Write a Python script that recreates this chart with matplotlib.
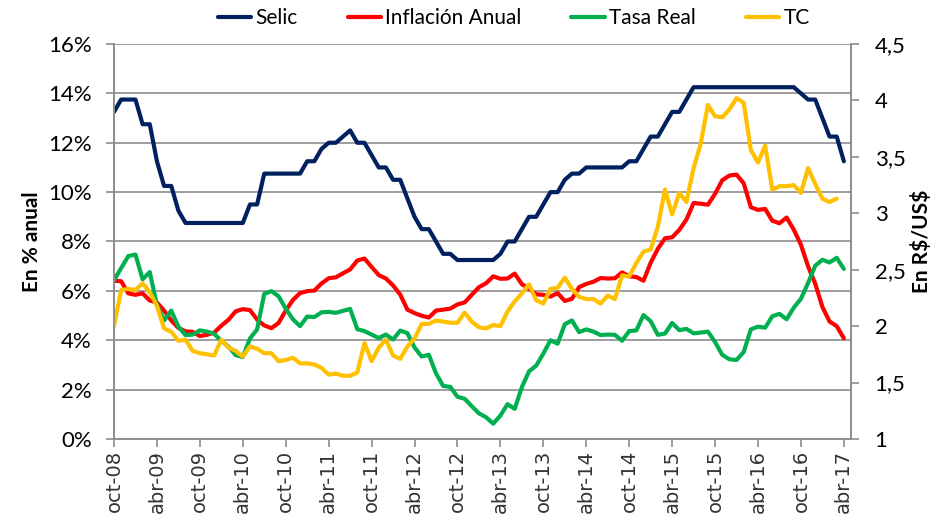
import numpy as np
import matplotlib.pyplot as plt

# etiquetas del eje x (cada 6 meses, desde oct-08)
meses = ['oct-08', 'abr-09', 'oct-09', 'abr-10', 'oct-10', 'abr-11', 'oct-11',
         'abr-12', 'oct-12', 'abr-13', 'oct-13', 'abr-14', 'oct-14', 'abr-15',
         'oct-15', 'abr-16', 'oct-16', 'abr-17']

# Selic (% anual), mensual oct-08 .. abr-17
selic = [13.25, 13.75, 13.75, 13.75, 12.75, 12.75, 11.25, 10.25, 10.25, 9.25,
         8.75, 8.75, 8.75, 8.75, 8.75, 8.75, 8.75, 8.75, 8.75, 9.5,
         9.5, 10.75, 10.75, 10.75, 10.75, 10.75, 10.75, 11.25, 11.25, 11.75,
         12.0, 12.0, 12.25, 12.5, 12.0, 12.0, 11.5, 11.0, 11.0, 10.5,
         10.5, 9.75, 9.0, 8.5, 8.5, 8.0, 7.5, 7.5, 7.25, 7.25,
         7.25, 7.25, 7.25, 7.25, 7.5, 8.0, 8.0, 8.5, 9.0, 9.0,
         9.5, 10.0, 10.0, 10.5, 10.75, 10.75, 11.0, 11.0, 11.0, 11.0,
         11.0, 11.0, 11.25, 11.25, 11.75, 12.25, 12.25, 12.75, 13.25, 13.25,
         13.75, 14.25, 14.25, 14.25, 14.25, 14.25, 14.25, 14.25, 14.25, 14.25,
         14.25, 14.25, 14.25, 14.25, 14.25, 14.25, 14.0, 13.75, 13.75, 13.0,
         12.25, 12.25, 11.25]

# inflacion 12 meses (%)
inflacion = [6.41, 6.39, 5.90,
             5.84, 5.90, 5.61, 5.53, 5.20, 4.80, 4.50, 4.36, 4.34, 4.17, 4.22, 4.31,
             4.59, 4.83, 5.17, 5.26, 5.22, 4.84, 4.60, 4.49, 4.70, 5.20, 5.63, 5.91,
             5.99, 6.01, 6.30, 6.51, 6.55, 6.71, 6.87, 7.23, 7.31, 6.97, 6.64, 6.50,
             6.22, 5.85, 5.24, 5.10, 4.99, 4.92, 5.20, 5.24, 5.28, 5.45, 5.53, 5.84,
             6.15, 6.31, 6.59, 6.49, 6.50, 6.70, 6.27, 6.09, 5.86, 5.84, 5.77, 5.91,
             5.59, 5.68, 6.15, 6.28, 6.37, 6.52, 6.50, 6.51, 6.75, 6.59, 6.56, 6.41,
             7.14, 7.70, 8.13, 8.17, 8.47, 8.89, 9.56, 9.53, 9.49, 9.93, 10.48, 10.67,
             10.71, 10.36, 9.39, 9.28, 9.32, 8.84, 8.74, 8.97, 8.48, 7.87, 6.99, 6.29,
             5.35, 4.76, 4.57, 4.08]

# tasa real (%)
tasa_real = [6.43, 6.92, 7.41, 7.47, 6.47, 6.76, 5.42, 4.80, 5.20, 4.55,
             4.21, 4.23, 4.40, 4.35, 4.26, 3.98, 3.74, 3.40, 3.32, 4.07,
             4.44, 5.88, 5.99, 5.78, 5.28, 4.85, 4.57, 4.96, 4.94, 5.13,
             5.15, 5.11, 5.19, 5.27, 4.45, 4.37, 4.23, 4.09, 4.23, 4.03,
             4.39, 4.29, 3.71, 3.34, 3.41, 2.66, 2.15, 2.11, 1.71, 1.63,
             1.33, 1.04, 0.88, 0.62, 0.95, 1.41, 1.22, 2.10, 2.74, 2.97,
             3.46, 4.00, 3.86, 4.65, 4.80, 4.33, 4.44, 4.35, 4.21, 4.23,
             4.22, 3.98, 4.37, 4.40, 5.02, 4.77, 4.22, 4.27, 4.70, 4.41,
             4.46, 4.28, 4.31, 4.35, 3.93, 3.41, 3.23, 3.20, 3.52, 4.44,
             4.55, 4.51, 4.97, 5.07, 4.85, 5.32, 5.68, 6.32, 7.02, 7.26,
             7.15, 7.34, 6.89]

# tipo de cambio R$/US$ (eje derecho)
tc = [2.00, 2.32, 2.33, 2.32, 2.38, 2.30, 2.18, 1.98, 1.95, 1.87,
      1.88, 1.78, 1.76, 1.75, 1.74, 1.88, 1.81, 1.78, 1.73, 1.82,
      1.80, 1.76, 1.76, 1.69, 1.70, 1.72, 1.67, 1.67, 1.66, 1.63,
      1.57, 1.58, 1.56, 1.56, 1.59, 1.85, 1.69, 1.81, 1.88, 1.74,
      1.71, 1.82, 1.89, 2.02, 2.02, 2.05, 2.04, 2.03, 2.03, 2.12,
      2.04, 1.99, 1.98, 2.01, 2.00, 2.13, 2.22, 2.29, 2.37, 2.23,
      2.20, 2.33, 2.34, 2.43, 2.33, 2.26, 2.24, 2.24, 2.20, 2.27,
      2.24, 2.45, 2.44, 2.56, 2.66, 2.68, 2.88, 3.21, 2.99, 3.18,
      3.10, 3.40, 3.62, 3.96, 3.86, 3.85, 3.92, 4.02, 3.98, 3.56,
      3.45, 3.60, 3.21, 3.24, 3.24, 3.25, 3.18, 3.40, 3.26, 3.13,
      3.10, 3.13]

der_labels = ['1', '1,5', '2', '2,5', '3', '3,5', '4', '4,5']

plt.rcParams['font.family'] = ['Lato', 'DejaVu Sans']
gris = '#8c8c8c'

fig = plt.figure(figsize=(9.39, 5.27), dpi=100)
ax = fig.add_axes([0.1214, 0.167, 0.7849, 0.7495])
ax2 = ax.twinx()

lw = 3.0
kw = dict(lw=lw, solid_capstyle='round', solid_joinstyle='round')
l1, = ax.plot(np.arange(len(selic)), selic, color='#002060', label='Selic', **kw)
l2, = ax.plot(np.arange(len(inflacion)), inflacion, color='#ff0000', label='Inflación Anual', **kw)
l3, = ax.plot(np.arange(len(tasa_real)), tasa_real, color='#00b050', label='Tasa Real', **kw)
l4, = ax2.plot(np.arange(len(tc)), tc, color='#ffc000', label='TC', **kw)

ax.set_xlim(0, 103)
ax.set_ylim(0, 16)
ax2.set_ylim(1, 4.5)

ax.set_yticks(np.arange(0, 17, 2))
ax.set_yticklabels([f'{v}%' for v in range(0, 17, 2)], fontsize=16)
ax2.set_yticks(np.arange(1, 4.51, 0.5))
ax2.set_yticklabels(der_labels, fontsize=16)

ax.set_xticks(np.arange(0, 103, 6))
ax.set_xticklabels(meses, rotation=90, fontsize=14, family='DejaVu Sans', color='#333333')

ax.grid(axis='y', color=gris, lw=1.2)
ax.set_axisbelow(True)

for a in (ax, ax2):
    a.spines['top'].set_visible(False)
    for s in ('left', 'right', 'bottom'):
        a.spines[s].set_color(gris)
        a.spines[s].set_linewidth(1.2)

ax.tick_params(axis='y', length=6, width=1.2, color=gris, pad=10)
ax.tick_params(axis='x', length=6, width=1.2, color=gris, pad=2)
ax2.tick_params(axis='y', length=6, width=1.2, color=gris, pad=11)

ax.set_ylabel('En % anual', fontsize=15, fontweight='bold', labelpad=4)
ax2.set_ylabel('En R\\$/US\\$', fontsize=15, fontweight='bold', labelpad=4)

fig.legend(handles=[l1, l2, l3, l4], loc='center', bbox_to_anchor=(0.547, 0.965),
           ncol=4, frameon=False, fontsize=15, handlelength=1.6,
           handletextpad=0.2, columnspacing=2.4)

fig.savefig('out.png', dpi=100)
